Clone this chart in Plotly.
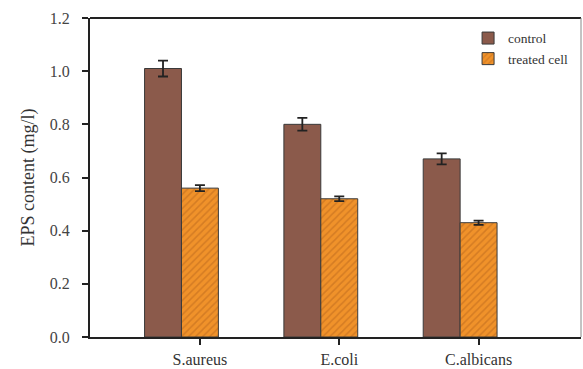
import plotly.graph_objects as go

# EPS content per organism
organisms = ["S.aureus", "E.coli", "C.albicans"]
control = [1.01, 0.80, 0.67]
control_err = [0.030, 0.024, 0.021]
treated = [0.56, 0.52, 0.43]
treated_err = [0.011, 0.009, 0.008]
y_ticks = [0.0, 0.2, 0.4, 0.6, 0.8, 1.0, 1.2]

positions = list(range(len(organisms)))
bar_w = 0.265

fig = go.Figure()
fig.add_trace(go.Bar(
    x=[p - bar_w for p in positions], y=control, width=bar_w, name="control",
    marker=dict(color="#8B5A4B", line=dict(color="#3a3a3a", width=1)),
    error_y=dict(type="data", array=control_err, color="#222222", thickness=1.8, width=5),
))
fig.add_trace(go.Bar(
    x=positions, y=treated, width=bar_w, name="treated cell",
    marker=dict(color="#F0922A", line=dict(color="#3a3a3a", width=1),
                pattern=dict(shape="/", fgcolor="#B8651C", size=5, solidity=0.3)),
    error_y=dict(type="data", array=treated_err, color="#222222", thickness=1.8, width=5),
))

serif = "Liberation Serif"
fig.update_layout(
    width=583, height=369,
    margin=dict(l=90, r=2, t=18, b=32),
    plot_bgcolor="white", paper_bgcolor="white",
    barmode="overlay", showlegend=True,
    font=dict(family=serif, size=15, color="#333333"),
    legend=dict(x=0.77, y=0.985, xanchor="left", yanchor="top",
                font=dict(family=serif, size=13.5, color="#333333"),
                bgcolor="rgba(0,0,0,0)", tracegroupgap=2, itemwidth=30),
    xaxis=dict(range=[-0.789, 2.735], tickvals=positions, ticktext=organisms,
               showline=True, linecolor="#222222", linewidth=2,
               ticks="outside", ticklen=6, tickwidth=2, tickcolor="#222222",
               showgrid=False, zeroline=False, ticklabelstandoff=1, automargin=False,
               tickfont=dict(family=serif, size=16, color="#333333")),
    yaxis=dict(range=[0, 1.2], tickvals=y_ticks, tickformat=".1f",
               showline=True, linecolor="#222222", linewidth=2,
               ticks="outside", ticklen=6, tickwidth=2, tickcolor="#222222",
               showgrid=False, zeroline=False, ticklabelstandoff=9, automargin=False,
               title=dict(text="EPS content (mg/l)", font=dict(family=serif, size=18, color="#333333"),
                          standoff=10),
               tickfont=dict(family=serif, size=16, color="#444444")),
    shapes=[
        dict(type="line", xref="paper", yref="paper", x0=0, x1=1, y0=1, y1=1,
             line=dict(color="#222222", width=2)),
        dict(type="line", xref="paper", yref="paper", x0=1, x1=1, y0=0, y1=1,
             line=dict(color="#888888", width=1)),
    ],
)

fig.write_html("out.html")
